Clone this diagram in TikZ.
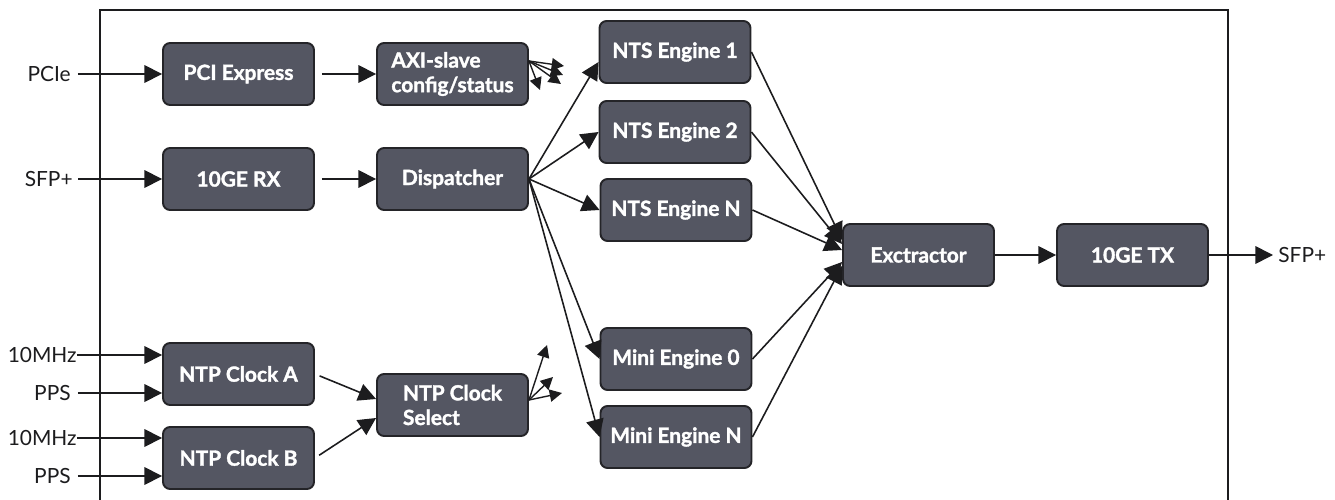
\documentclass[tikz,border=0pt]{standalone}
\usepackage{fontspec}
\setmainfont{Lato}
\newfontfamily\blockschrift{Lato}[BoldFeatures={FakeBold=1.6}]
\usetikzlibrary{arrows.meta}

\definecolor{blockfill}{RGB}{84,86,98}
\definecolor{blockrand}{RGB}{36,36,40}
\definecolor{linie}{RGB}{28,28,30}

\tikzset{
	block/.style={draw=blockrand, line width=1.1pt, fill=blockfill, rounded corners=4pt,
		minimum width=3.02cm, minimum height=1.24cm, inner sep=2pt, align=center,
		text=white, font=\blockschrift\fontsize{11.9}{14}\selectfont\bfseries},
	ein/.style={anchor=east, inner sep=0pt, text=linie, font=\fontsize{11.9}{14}\selectfont},
	aus/.style={anchor=west, inner sep=0pt, text=linie, font=\fontsize{11.9}{14}\selectfont},
	pfeil/.style={draw=linie, line width=0.9pt, -{Triangle[length=10pt,width=10pt]}},
	stich/.style={draw=linie, line width=0.8pt, -{Triangle[length=7pt,width=7pt]}},
	rahmen/.style={draw=linie, line width=1pt}
}

\begin{document}
\begin{tikzpicture}[x=0.02cm,y=-0.02cm]
		
		\useasboundingbox (0,0) rectangle (1335,500);
		
		% Rahmen (unten offen)
		\draw[rahmen] (100,500) |- (1228,10) -- (1228,500);
		
		% Bloecke
		\node[block] (pci) at (238.5,74) {PCI Express};
		\node[block, align=left] (axi) at (452.5,74) {AXI-slave\\config/status};
		\node[block] (rx) at (238.5,179) {10GE RX};
		\node[block] (disp) at (452.5,179) {Dispatcher};
		\node[block] (nts1) at (675,52) {NTS Engine 1};
		\node[block] (nts2) at (675,132) {NTS Engine 2};
		\node[block] (ntsn) at (676,210) {NTS Engine N};
		\node[block] (mini0) at (676,359) {Mini Engine 0};
		\node[block] (minin) at (676,437) {Mini Engine N};
		\node[block] (extr) at (918.5,255) {Exctractor};
		\node[block] (tx) at (1132.5,255) {10GE TX};
		\node[block] (clka) at (238.5,374) {NTP Clock A};
		\node[block] (clkb) at (238.5,458) {NTP Clock B};
		\node[block, align=left] (clksel) at (452.5,405) {NTP Clock\\Select};
		
		% Ein- und Ausgaenge
		\node[ein] (pcie) at (71,74) {PCIe};
		\node[ein] (sfpin) at (73,179) {SFP+};
		\node[ein] (mhza) at (77,355) {10MHz};
		\node[ein] (ppsa) at (71,393) {PPS};
		\node[ein] (mhzb) at (77,438) {10MHz};
		\node[ein] (ppsb) at (71,476) {PPS};
		\node[aus] (sfpout) at (1278,255) {SFP+};
		
		\draw[pfeil] ([xshift=0.14cm]pcie.east) -- (pci.west);
		\draw[pfeil] ([xshift=0.1cm]sfpin.east) -- (rx.west);
		\draw[pfeil] (mhza.east) -- (clka.west |- mhza.east);
		\draw[pfeil] ([xshift=0.14cm]ppsa.east) -- (clka.west |- ppsa.east);
		\draw[pfeil] (mhzb.east) -- (clkb.west |- mhzb.east);
		\draw[pfeil] ([xshift=0.14cm]ppsb.east) -- (clkb.west |- ppsb.east);
		
		% Datenpfad
		\draw[pfeil, shorten <=0.14cm] (pci) -- (axi);
		\draw[pfeil, shorten <=0.14cm] (rx) -- (disp);
		\draw[pfeil] (disp.east) -- ([yshift=-0.2cm]nts1.west);
		\foreach \z in {nts2,ntsn,mini0,minin}
			\draw[pfeil] (disp.east) -- (\z.west);
		\foreach \q/\v in {nts1/0.3, nts2/0.22, ntsn/0.1, mini0/-0.14, minin/-0.22}
			\draw[pfeil] (\q.east) -- ([yshift=\v cm]extr.west);
		\draw[pfeil] (extr) -- (tx);
		\draw[pfeil] (tx) -- ([xshift=-0.1cm]sfpout.west);
		
		% Takt
		\draw[pfeil, shorten <=0.1cm] (clka.east) -- ([yshift=0.12cm]clksel.west);
		\draw[pfeil, shorten <=0.1cm] (clkb.east) -- ([yshift=-0.26cm]clksel.west);
		
		% Stichpfeile zu allen Engines
		\coordinate (axi1) at (564,66);
		\coordinate (axi2) at (563,75);
		\coordinate (axi3) at (561,84);
		\coordinate (axi4) at (540,90);
		\foreach \e in {1,...,4}
			\draw[stich] ([yshift=0.26cm]axi.east) -- (axi\e);
		\coordinate (sel1) at (547,345);
		\coordinate (sel2) at (553,377);
		\coordinate (sel3) at (562,393);
		\foreach \e in {1,2,3}
			\draw[stich] ([yshift=0.1cm]clksel.east) -- (sel\e);
		
	\end{tikzpicture}
\end{document}
